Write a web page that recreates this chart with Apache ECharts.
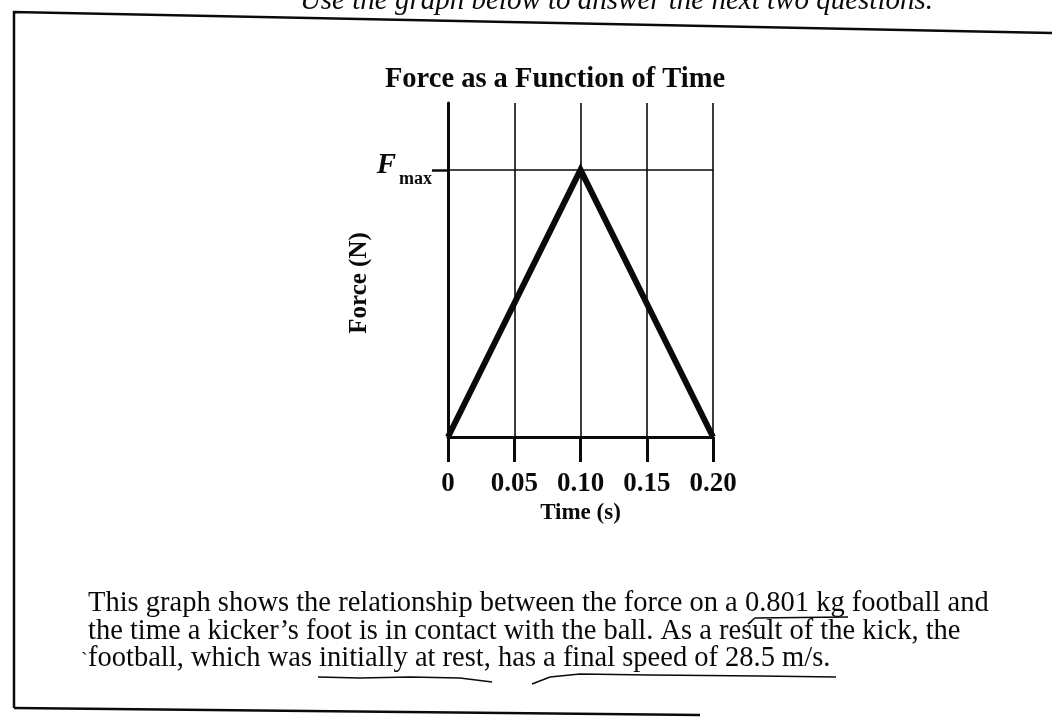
<!DOCTYPE html>
<html>
<head>
<meta charset="utf-8">
<script src="https://cdn.jsdelivr.net/npm/echarts@6/dist/echarts.min.js"></script>
<style>
  html, body { margin: 0; padding: 0; background: #fff; }
  #chart { width: 1052px; height: 724px; }
</style>
</head>
<body>
<div id="chart"></div>
<script>
// Force–time curve of the kick (force in grid units; the peak is F max)
const timeValues = [0, 0.10, 0.20];
const forceValues = [0, 4, 0];
const timeTickLabels = ['0', '0.05', '0.10', '0.15', '0.20'];
const forceMaxLevel = 4;
const forceAxisTop = 5;

const chartTitle = 'Force as a Function of Time';
const xAxisName = 'Time (s)';
const yAxisName = 'Force (N)';
const headerLine = 'Use the graph below to answer the next two questions.';
const bodyLines = [
  'This graph shows the relationship between the force on a 0.801 kg football and',
  'the time a kicker\u2019s foot is in contact with the ball. As a result of the kick, the',
  'football, which was initially at rest, has a final speed of 28.5 m/s.'
];

const SERIF = '"Liberation Serif", "DejaVu Serif", serif';
const INK = '#0a0a0a';

const chart = echarts.init(document.getElementById('chart'), null, { renderer: 'canvas' });

const bodyTop = 604;
const bodyStep = 27.5;
const bodyFont = '28.5px ' + SERIF;

chart.setOption({
  backgroundColor: '#ffffff',
  animation: false,
  title: {
    text: chartTitle,
    left: 550,
    top: 60,
    textAlign: 'center',
    textStyle: { fontFamily: SERIF, fontWeight: 'bold', fontSize: 28.5, color: INK }
  },
  grid: { left: 448, right: 339, top: 103, bottom: 287 },
  xAxis: {
    type: 'value',
    min: 0,
    max: 0.2,
    interval: 0.05,
    name: xAxisName,
    nameLocation: 'middle',
    nameGap: 65,
    nameTextStyle: { fontFamily: SERIF, fontWeight: 'bold', fontSize: 23, color: INK },
    axisLine: { show: true, lineStyle: { color: INK, width: 3 } },
    axisTick: { show: true, inside: false, length: 25, lineStyle: { color: INK, width: 3 } },
    axisLabel: {
      margin: 34,
      fontFamily: SERIF,
      fontWeight: 'bold',
      fontSize: 27,
      color: INK,
      formatter: (v) => timeTickLabels[Math.round(v / 0.05)]
    },
    splitLine: { show: true, lineStyle: { color: INK, width: 1.6 } }
  },
  yAxis: {
    type: 'value',
    min: 0,
    max: forceAxisTop,
    interval: 1,
    name: yAxisName,
    nameLocation: 'middle',
    nameRotate: 90,
    nameGap: 76,
    nameTextStyle: { fontFamily: SERIF, fontWeight: 'bold', fontSize: 25, color: INK, padding: [0, 26, 0, 0] },
    axisLine: { show: true, lineStyle: { color: INK, width: 3 } },
    axisTick: { show: true, inside: false, length: 16, customValues: [forceMaxLevel], lineStyle: { color: INK, width: 2.5 } },
    axisLabel: {
      margin: 16,
      customValues: [forceMaxLevel],
      formatter: () => '{f|F}{m|max}',
      rich: {
        f: { fontFamily: SERIF, fontStyle: 'italic', fontWeight: 'bold', fontSize: 29, color: INK, padding: [0, 3, 8, 0] },
        m: { fontFamily: SERIF, fontWeight: 'bold', fontSize: 18, color: INK, verticalAlign: 'bottom' }
      }
    },
    splitLine: { show: true, lineStyle: { color: INK, width: 1.6 } }
  },
  series: [{
    type: 'line',
    data: timeValues.map((t, i) => [t, forceValues[i]]),
    symbol: 'none',
    lineStyle: { color: INK, width: 6, join: 'miter' },
    z: 5
  }],
  graphic: [
    // frame of the question box
    { type: 'polyline', shape: { points: [[14, 708], [14, 12], [1052, 33]] }, style: { stroke: INK, lineWidth: 2.5, fill: null } },
    { type: 'polyline', shape: { points: [[14, 708], [700, 715]] }, style: { stroke: INK, lineWidth: 2.5, fill: null } },
    // header line of the page, cut off by the top edge
    { type: 'text', x: 933, y: 1, style: { text: headerLine, font: 'italic 29px ' + SERIF, fill: INK, align: 'right', verticalAlign: 'middle' } },
    // description under the graph
    ...bodyLines.map((line, i) => ({
      type: 'text', x: 88, y: bodyTop + i * bodyStep,
      style: { text: line, font: bodyFont, fill: INK, align: 'left', verticalAlign: 'middle' }
    })),
    { type: 'text', x: 81, y: 652, style: { text: '`', font: '20px ' + SERIF, fill: INK } },
    // pen underlines
    { type: 'polyline', shape: { points: [[752, 621], [748, 624], [755, 618], [800, 617.5], [848, 617]] }, style: { stroke: INK, lineWidth: 1.6, fill: null } },
    { type: 'polyline', shape: { points: [[318, 677], [360, 678], [410, 677], [460, 678], [492, 682]] }, style: { stroke: INK, lineWidth: 1.6, fill: null } },
    { type: 'polyline', shape: { points: [[532, 684], [550, 677], [580, 674], [650, 675], [760, 676], [836, 677]] }, style: { stroke: INK, lineWidth: 1.6, fill: null } }
  ]
});
</script>
</body>
</html>
